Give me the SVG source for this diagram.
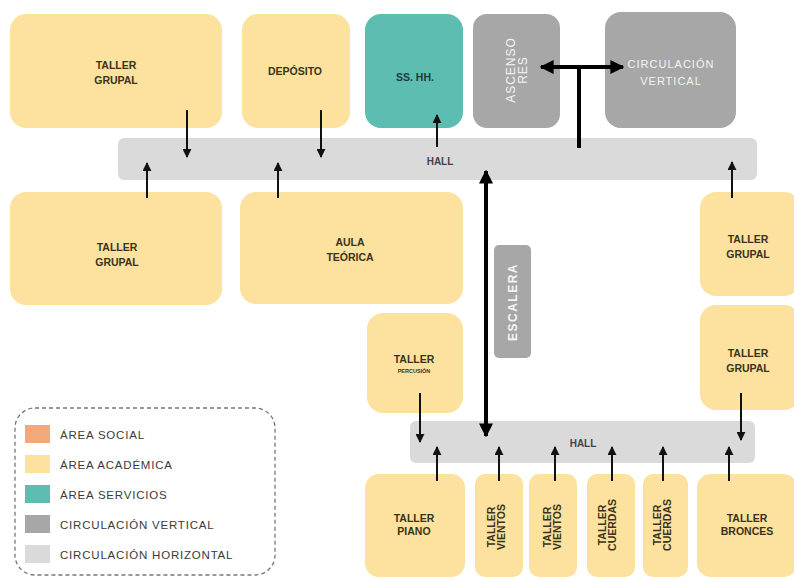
<svg xmlns="http://www.w3.org/2000/svg" width="794" height="577" viewBox="0 0 794 577">
<style>
.aca{fill:#FCE29E}
.srv{fill:#5DBDB1}
.ver{fill:#A7A7A7}
.hor{fill:#DADADA}
.t{font-family:"Liberation Sans",Arial,sans-serif;font-size:10.5px;font-weight:bold;fill:#3A3219;text-anchor:middle}
.tw{font-family:"Liberation Sans",Arial,sans-serif;font-size:11px;fill:#F4F4F4;text-anchor:middle;letter-spacing:1px}
.ts{font-family:"Liberation Sans",Arial,sans-serif;font-size:5.5px;font-weight:bold;fill:#3A3219;text-anchor:middle}
.th{font-family:"Liberation Sans",Arial,sans-serif;font-size:10px;font-weight:bold;fill:#444;text-anchor:middle}
.lg{font-family:"Liberation Sans",Arial,sans-serif;font-size:11.5px;fill:#3A3A3A;letter-spacing:0.8px}
.a{stroke:#111;stroke-width:2;fill:none}
.ab{stroke:#000;stroke-width:4;fill:none}
</style>
<defs>
<marker id="ah" viewBox="0 0 10 10" refX="9" refY="5" markerWidth="9" markerHeight="9" markerUnits="userSpaceOnUse" orient="auto-start-reverse"><path d="M0,0 L10,5 L0,10 z" fill="#111"/></marker>
<marker id="ahb" viewBox="0 0 10 10" refX="9" refY="5" markerWidth="14" markerHeight="14" markerUnits="userSpaceOnUse" orient="auto-start-reverse"><path d="M0,0 L10,5 L0,10 z" fill="#000"/></marker>
</defs>
<rect width="794" height="577" fill="#fff"/>

<g id="hall-top"><rect class="hor" x="118" y="138" width="639" height="42" rx="6"/><text class="th" x="440" y="165">HALL</text></g>
<g id="hall-bottom"><rect class="hor" x="410" y="421" width="345" height="42" rx="6"/><text class="th" x="583" y="447">HALL</text></g>

<g id="taller-grupal-1"><rect class="aca" x="10" y="14" width="212" height="114" rx="16"/><text class="t" x="116" y="69">TALLER</text><text class="t" x="116" y="84">GRUPAL</text></g>
<g id="deposito"><rect class="aca" x="242" y="14" width="108" height="114" rx="16"/><text class="t" x="295" y="75">DEPÓSITO</text></g>
<g id="ss-hh"><rect class="srv" x="365" y="14" width="98" height="114" rx="16"/><text class="t" x="415" y="81" style="fill:#1E3B37">SS. HH.</text></g>
<g id="ascensores"><rect class="ver" x="473" y="14" width="87" height="114" rx="14"/><g transform="translate(517,70) rotate(-90)"><text class="tw" x="0" y="-2" style="font-size:12px">ASCENSO</text><text class="tw" x="0" y="10" style="font-size:12px">RES</text></g></g>
<g id="circ-vertical"><rect class="ver" x="605" y="12" width="131" height="116" rx="16"/><text class="tw" x="671" y="68">CIRCULACIÓN</text><text class="tw" x="671" y="85">VERTICAL</text></g>

<g id="taller-grupal-2"><rect class="aca" x="10" y="192" width="212" height="113" rx="16"/><text class="t" x="117" y="251">TALLER</text><text class="t" x="117" y="266">GRUPAL</text></g>
<g id="aula-teorica"><rect class="aca" x="240" y="192" width="223" height="112" rx="16"/><text class="t" x="350" y="246">AULA</text><text class="t" x="350" y="261">TEÓRICA</text></g>
<g id="taller-grupal-3"><rect class="aca" x="700" y="192" width="100" height="104" rx="16"/><text class="t" x="748" y="243">TALLER</text><text class="t" x="748" y="258">GRUPAL</text></g>
<g id="taller-grupal-4"><rect class="aca" x="700" y="305" width="100" height="105" rx="16"/><text class="t" x="748" y="357">TALLER</text><text class="t" x="748" y="372">GRUPAL</text></g>
<g id="escalera"><rect class="ver" x="494" y="245" width="37" height="113" rx="5"/><text class="tw" transform="translate(517,302) rotate(-90)" x="0" y="0" style="font-weight:bold;font-size:12px;letter-spacing:1.5px">ESCALERA</text></g>
<g id="taller-percusion"><rect class="aca" x="367" y="313" width="96" height="100" rx="16"/><text class="t" x="414" y="363">TALLER</text><text class="ts" x="414" y="373">PERCUSIÓN</text></g>

<g id="taller-piano"><rect class="aca" x="365" y="474" width="100" height="103" rx="14"/><text class="t" x="414" y="522">TALLER</text><text class="t" x="414" y="535">PIANO</text></g>
<g id="taller-vientos-1"><rect class="aca" x="475" y="474" width="48" height="103" rx="10"/><g transform="translate(496,527) rotate(-90)"><text class="t" x="0" y="-1">TALLER</text><text class="t" x="0" y="9">VIENTOS</text></g></g>
<g id="taller-vientos-2"><rect class="aca" x="529" y="474" width="48" height="103" rx="10"/><g transform="translate(552,527) rotate(-90)"><text class="t" x="0" y="-1">TALLER</text><text class="t" x="0" y="9">VIENTOS</text></g></g>
<g id="taller-cuerdas-1"><rect class="aca" x="587" y="474" width="48" height="103" rx="10"/><g transform="translate(607,525) rotate(-90)"><text class="t" x="0" y="-1">TALLER</text><text class="t" x="0" y="9">CUERDAS</text></g></g>
<g id="taller-cuerdas-2"><rect class="aca" x="643" y="474" width="45" height="103" rx="10"/><g transform="translate(662,525) rotate(-90)"><text class="t" x="0" y="-1">TALLER</text><text class="t" x="0" y="9">CUERDAS</text></g></g>
<g id="taller-bronces"><rect class="aca" x="697" y="474" width="100" height="103" rx="14"/><text class="t" x="747" y="522">TALLER</text><text class="t" x="747" y="535">BRONCES</text></g>

<g id="connectors">
<line class="a" x1="187" y1="110" x2="187" y2="157" marker-end="url(#ah)"/>
<line class="a" x1="321" y1="110" x2="321" y2="157" marker-end="url(#ah)"/>
<line class="a" x1="437" y1="147" x2="437" y2="115" marker-end="url(#ah)"/>
<line class="a" x1="147" y1="198" x2="147" y2="163" marker-end="url(#ah)"/>
<line class="a" x1="278" y1="198" x2="278" y2="163" marker-end="url(#ah)"/>
<line class="a" x1="732" y1="198" x2="732" y2="162" marker-end="url(#ah)"/>
<line class="ab" x1="579" y1="148" x2="579" y2="67"/>
<line class="ab" x1="541" y1="67" x2="623" y2="67" marker-start="url(#ahb)" marker-end="url(#ahb)"/>
<line class="ab" x1="486" y1="171" x2="486" y2="436" marker-start="url(#ahb)" marker-end="url(#ahb)"/>
<line class="a" x1="420" y1="393" x2="420" y2="442" marker-end="url(#ah)"/>
<line class="a" x1="741" y1="393" x2="741" y2="440" marker-end="url(#ah)"/>
<line class="a" x1="437" y1="481" x2="437" y2="447" marker-end="url(#ah)"/>
<line class="a" x1="499" y1="481" x2="499" y2="447" marker-end="url(#ah)"/>
<line class="a" x1="555" y1="481" x2="555" y2="447" marker-end="url(#ah)"/>
<line class="a" x1="612" y1="481" x2="612" y2="447" marker-end="url(#ah)"/>
<line class="a" x1="663" y1="481" x2="663" y2="447" marker-end="url(#ah)"/>
<line class="a" x1="729" y1="481" x2="729" y2="447" marker-end="url(#ah)"/>
</g>

<g id="legend">
<rect x="15" y="408" width="260" height="167" rx="20" fill="none" stroke="#777" stroke-width="1.3" stroke-dasharray="4 3"/>
<rect x="25" y="425" width="25" height="18" fill="#F1A97B"/><text class="lg" x="60" y="439">ÁREA SOCIAL</text>
<rect x="25" y="455" width="25" height="18" fill="#FCE29E"/><text class="lg" x="60" y="469">ÁREA ACADÉMICA</text>
<rect x="25" y="485" width="25" height="18" fill="#5DBDB1"/><text class="lg" x="60" y="499">ÁREA SERVICIOS</text>
<rect x="25" y="515" width="25" height="18" fill="#A7A7A7"/><text class="lg" x="60" y="529">CIRCULACIÓN VERTICAL</text>
<rect x="25" y="545" width="25" height="18" fill="#DADADA"/><text class="lg" x="60" y="559">CIRCULACIÓN HORIZONTAL</text>
</g>
</svg>
